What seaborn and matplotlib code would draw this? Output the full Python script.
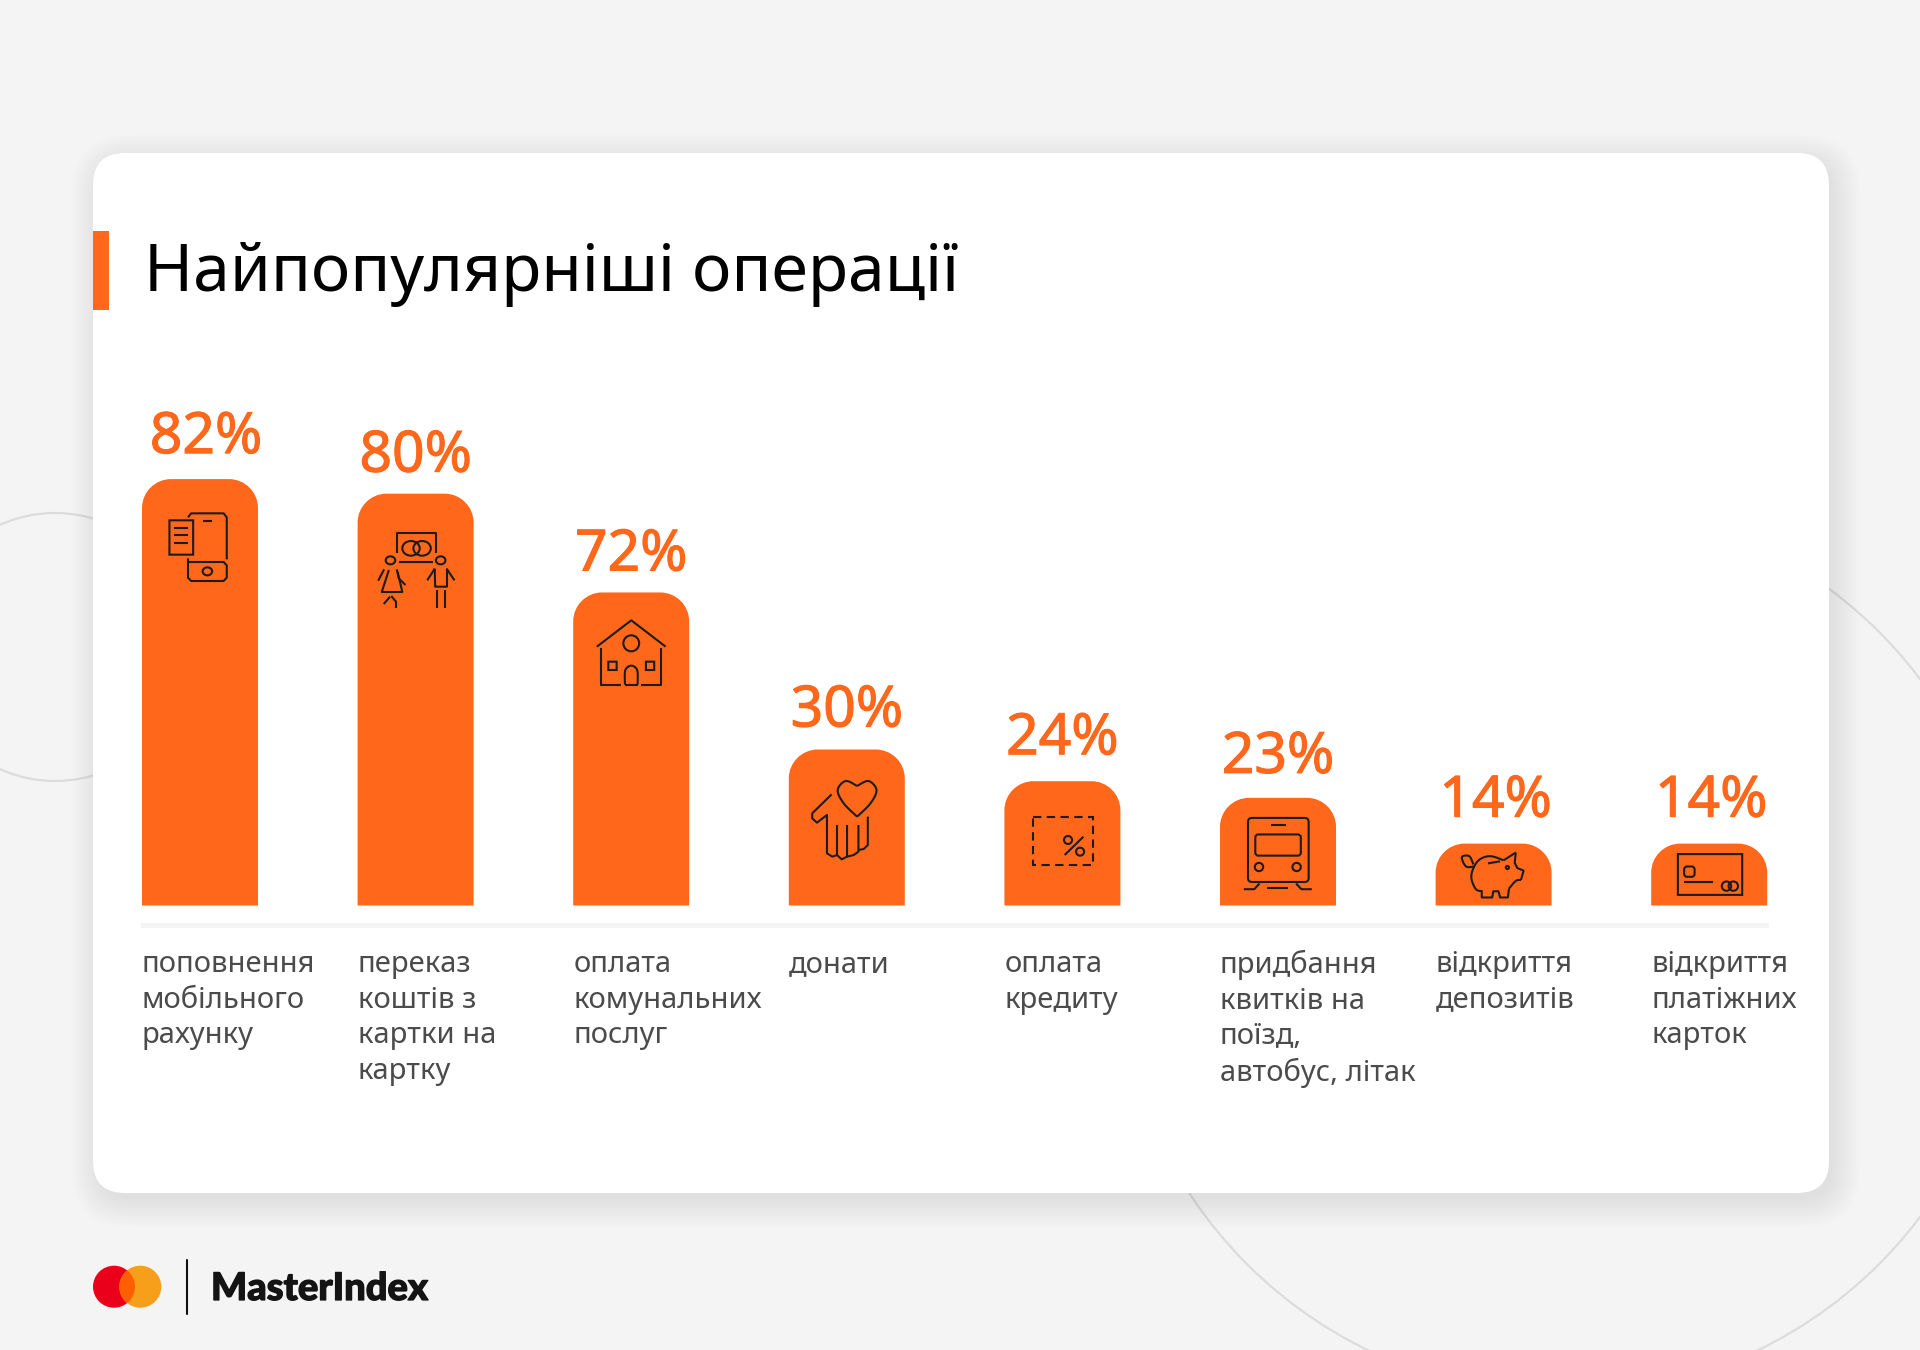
import numpy as np
import pandas as pd
import matplotlib as mpl
import matplotlib.pyplot as plt
import matplotlib.patheffects as pe
import seaborn as sns
from matplotlib.patches import Circle, Ellipse, FancyBboxPatch, PathPatch, Rectangle
from matplotlib.path import Path
from matplotlib.transforms import ScaledTranslation

# values printed above the bars
value_labels = ["82%", "80%", "72%", "30%", "24%", "23%", "14%", "14%"]
# bar heights as drawn in the picture (they do not all follow the printed value)
bar_heights = [82.0, 79.2, 60.2, 30.0, 23.9, 20.7, 11.9, 11.9]
categories = [
    "поповнення\nмобільного\nрахунку",
    "переказ\nкоштів з\nкартки на\nкартку",
    "оплата\nкомунальних\nпослуг",
    "донати",
    "оплата\nкредиту",
    "придбання\nквитків на\nпоїзд,\nавтобус, літак",
    "відкриття\nдепозитів",
    "відкриття\nплатіжних\nкарток",
]
title = "Найпопулярніші операції"
brand = "MasterIndex"

# gap between bar top and label baseline, px, and small sideways nudges
label_gap = [26, 22, 22, 23, 27, 25, 27, 27]
label_dx = [6, 0, 0, 0, 0, 0, 2, 2]

ORANGE = "#ff671b"
BG = "#f4f4f4"
INK = "#1c1c1c"
W, H = 1920, 1350

sns.set_theme(style="white")
mpl.rcParams["font.family"] = ["Noto Sans", "DejaVu Sans"]

fig = plt.figure(figsize=(W / 100, H / 100), dpi=100, facecolor=BG)

# background layer in pixel coordinates
bg = fig.add_axes([0, 0, 1, 1], zorder=0)
bg.set_xlim(0, W)
bg.set_ylim(H, 0)
bg.axis("off")
for c in [(55, 647, 134), (1563, 948, 447)]:
    bg.add_patch(Circle(c[:2], c[2], fill=False, ec="#dcdcdc", lw=1.6))
for i in range(20):
    grow = i * 1.5 - 2
    bg.add_patch(FancyBboxPatch((93 + 5 - grow, 153 + 8 - grow), 1736 + 2 * grow, 1040 + 2 * grow,
                                boxstyle=f"round,pad=0,rounding_size={32 + grow}", fc="black", ec="none", alpha=0.0038))
bg.add_patch(FancyBboxPatch((93, 153), 1736, 1040, boxstyle="round,pad=0,rounding_size=32", fc="white", ec="none"))
bg.add_patch(Rectangle((93, 231), 16, 79, fc=ORANGE, ec="none"))
bg.add_patch(Rectangle((141, 922.5), 1628, 5, fc=BG, ec="none"))
bg.text(144, 291, title, fontsize=47.6, color="black", va="baseline", ha="left")

# logo
bg.add_patch(Circle((114, 1286.7), 21, fc="#eb001b", ec="none"))
bg.add_patch(Circle((140.3, 1286.7), 21, fc="#f79e1b", ec="none"))
lens = Circle((114, 1286.7), 21, fc="#ff5f00", ec="none")
bg.add_patch(lens)
lens.set_clip_path(Circle((140.3, 1286.7), 21, transform=bg.transData))
bg.plot([186.7, 186.7], [1260, 1314], color="#111111", lw=1.5)
bg.text(211, 1300, brand, fontsize=27.4, family="Lato", fontweight="black", color="#141414", va="baseline", ha="left",
        path_effects=[pe.withStroke(linewidth=0.9, foreground="#141414")])

# bars
df = pd.DataFrame({"cat": categories, "height": bar_heights})
ax = fig.add_axes([92.2 / W, (H - 905.5) / H, (1817 - 92.2) / W, 520 / H], zorder=1)
ax.patch.set_alpha(0)
sns.barplot(data=df, x="cat", y="height", color=ORANGE, saturation=1, width=0.538, ax=ax)
ax.set_xlim(-0.5, 7.5)
ax.set_ylim(0, 100)
ax.set_xlabel("")
ax.set_ylabel("")
ax.set_yticks([])
sns.despine(ax=ax, left=True, bottom=True)

ax.tick_params(axis="x", length=0, pad=32, labelsize=21, labelcolor="#4b4b4b")
shift = ScaledTranslation(-58 / 100, 0, fig.dpi_scale_trans)
for lab in ax.get_xticklabels():
    lab.set_ha("left")
    lab.set_linespacing(1.3)
    lab.set_transform(lab.get_transform() + shift)

bars = list(ax.patches)
for bar, txt, gap, dx in zip(bars, value_labels, label_gap, label_dx):
    ax.annotate(txt, (bar.get_x() + bar.get_width() / 2, bar.get_height()), xytext=(dx * 0.72, gap * 0.72),
                textcoords="offset points", ha="center", va="baseline", fontsize=41, color=ORANGE,
                path_effects=[pe.withStroke(linewidth=0.8, foreground=ORANGE)])

# rounded top corners: same geometry as the seaborn bars, 29 px radius
rx = 29 / (ax.get_position().width * W / 8)
ry = 29 / (ax.get_position().height * H / 100)
k = 0.448
for bar in bars:
    x0, x1, y1 = bar.get_x(), bar.get_x() + bar.get_width(), bar.get_height()
    verts = [(x0, 0), (x0, y1 - ry), (x0, y1 - ry * k), (x0 + rx * k, y1), (x0 + rx, y1), (x1 - rx, y1),
             (x1 - rx * k, y1), (x1, y1 - ry * k), (x1, y1 - ry), (x1, 0), (x0, 0)]
    codes = [Path.MOVETO, Path.LINETO, Path.CURVE4, Path.CURVE4, Path.CURVE4, Path.LINETO,
             Path.CURVE4, Path.CURVE4, Path.CURVE4, Path.LINETO, Path.CLOSEPOLY]
    ax.add_patch(PathPatch(Path(verts, codes), fc=ORANGE, ec="none"))
    bar.set_visible(False)

# icons
ov = fig.add_axes([0, 0, 1, 1], zorder=2)
ov.set_xlim(0, W)
ov.set_ylim(H, 0)
ov.axis("off")
frame = (120, 380, 1568 / 620, 3.0)


def use(ox, oy, sx, sy):
    global frame
    frame = (ox, oy, sx, sy)


def px(pts):
    ox, oy, sx, sy = frame
    a = np.array(pts, dtype=float)
    return ox + a[:, 0] / sx, oy + a[:, 1] / sy


def line(*pts):
    x, y = px(pts)
    ov.plot(x, y, color=INK, lw=1.5, solid_capstyle="butt", solid_joinstyle="round")


def ell(cx, cy, rx, ry=None):
    ry = rx if ry is None else ry
    x, y = px([(cx, cy)])
    ov.add_patch(Ellipse((x[0], y[0]), 2 * rx / frame[2], 2 * ry / frame[3], fill=False, ec=INK, lw=1.5))


def box(x0, y0, x1, y1, r=0):
    (a, b), (c, d) = px([(x0, y0), (x1, y1)])
    ov.add_patch(FancyBboxPatch((a, c), b - a, d - c, boxstyle=f"round,pad=0,rounding_size={r}",
                                fill=False, ec=INK, lw=1.5))


def smooth(*pts):
    # Catmull-Rom through the given points
    p = np.array([pts[0]] + list(pts) + [pts[-1]], dtype=float)
    out = []
    for i in range(1, len(p) - 2):
        for t in np.linspace(0, 1, 10):
            out.append(0.5 * (2 * p[i] + (p[i + 1] - p[i - 1]) * t
                              + (2 * p[i - 1] - 5 * p[i] + 4 * p[i + 1] - p[i + 2]) * t ** 2
                              + (3 * p[i] - p[i - 1] - 3 * p[i + 1] + p[i + 2]) * t ** 3))
    line(*out)


# phone
line((172, 412), (180, 400), (262, 400), (270, 412), (270, 538))
line((172, 535), (172, 593), (180, 603), (262, 603), (270, 593), (270, 556), (262, 546), (172, 546))
ell(221, 574, 12)
line((210, 423), (232, 423))
box(125, 421, 185, 524)
for yy in (444, 466, 489):
    line((137, yy), (172, yy))

# people with card
line((700, 520), (700, 458), (800, 458), (800, 520))
line((706, 546), (792, 546))
ell(736, 505, 22)
ell(764, 505, 22)
ell(684, 541, 12)
ell(811, 541, 12)
line((668, 568), (653, 602))
line((700, 568), (705, 595), (722, 615))
line((680, 570), (662, 636), (714, 636), (702, 575))
line((667, 672), (683, 650))
line((686, 648), (698, 665), (698, 684))
line((796, 566), (777, 601))
line((826, 566), (846, 601))
line((796, 566), (797, 620), (827, 620), (827, 566))
line((802, 630), (802, 684))
line((821, 630), (821, 684))

# house
line((1206, 800), (1293, 721), (1380, 800))
line((1216, 803), (1216, 914), (1268, 914))
line((1369, 803), (1369, 914), (1318, 914))
ell(1293, 790, 20, 24)
box(1235, 845, 1256, 870)
box(1330, 845, 1351, 870)
smooth((1277, 914), (1277, 876), (1283, 862), (1293, 857), (1303, 862), (1309, 876), (1309, 914))
line((1277, 914), (1309, 914))

use(760, 680, 1568 / 1050, 3.0)
# hand with heart
smooth((145, 410), (125, 370), (116, 330), (128, 303), (145, 318))
smooth((145, 318), (162, 303), (174, 330), (165, 370), (145, 410))
line((107, 343), (78, 400), (78, 415), (85, 428), (100, 405), (100, 520), (108, 530), (115, 525), (115, 435))
line((115, 525), (122, 538), (130, 530), (130, 435))
line((130, 530), (140, 525), (147, 515), (147, 435))
line((147, 510), (155, 507), (161, 495), (161, 410))

# dashed box with percent
(a, b), (c, d) = px([(407, 410), (497, 555)])
ov.add_patch(Rectangle((a, c), b - a, d - c, fill=False, ec=INK, lw=1.5, ls=(0, (4, 2.6))))
line((455, 525), (483, 470))
ell(460, 480, 6, 12)
ell(478, 515, 6, 12)

use(1100, 540, 1568 / 820, 1568 / 810)
# train
box(283, 538, 399, 662, 4)
line((327, 552), (355, 552))
box(297, 570, 384, 611, 3)
ell(304, 633, 8)
ell(376, 633, 8)
line((275, 676), (295, 676), (305, 665))
line((320, 674), (360, 674))
line((375, 665), (385, 676), (405, 676))

# piggy bank
smooth((795, 605), (772, 620))
smooth((772, 620), (745, 612), (722, 622), (710, 650), (718, 675), (730, 680))
line((730, 678), (730, 692), (750, 692), (752, 680), (762, 680), (765, 692), (780, 692), (782, 675))
smooth((782, 675), (795, 660), (805, 658))
line((805, 658), (810, 640), (798, 635), (793, 625), (795, 605))
smooth((716, 632), (700, 632), (692, 614), (706, 612), (714, 628))
line((742, 626), (765, 622))
ell(779, 634, 3)

# payment card
box(1105, 608, 1228, 687)
box(1117, 632, 1137, 652, 3)
line((1117, 663), (1172, 663))
ell(1198, 670, 9)
ell(1211, 670, 9)

fig.savefig("out.png", dpi=100, facecolor=BG)
